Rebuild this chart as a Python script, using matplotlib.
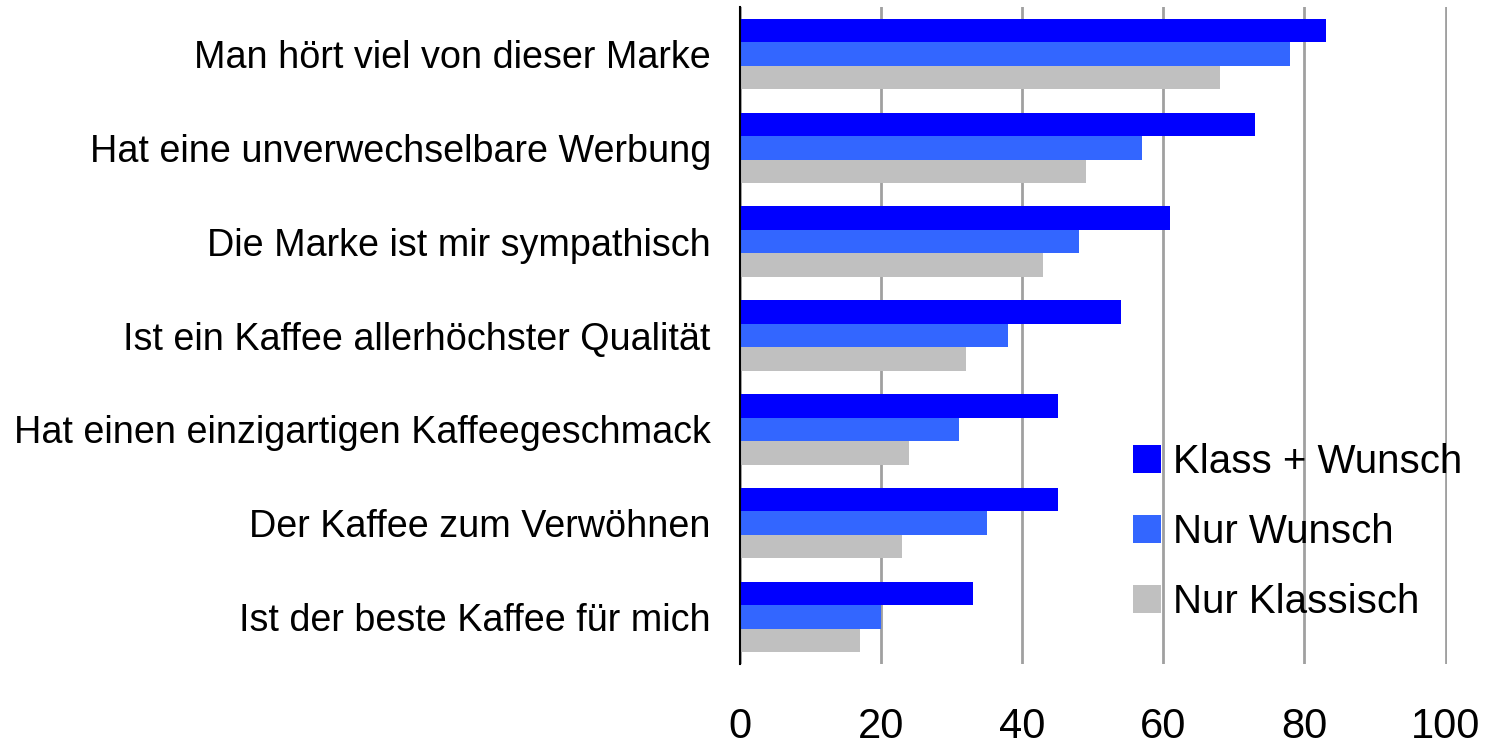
import matplotlib
matplotlib.use('Agg')
import matplotlib.pyplot as plt
import numpy as np

plt.rcParams['font.family'] = ['Liberation Sans', 'DejaVu Sans']

categories = [
    'Man hört viel von dieser Marke',
    'Hat eine unverwechselbare Werbung',
    'Die Marke ist mir sympathisch',
    'Ist ein Kaffee allerhöchster Qualität',
    'Hat einen einzigartigen Kaffeegeschmack',
    'Der Kaffee zum Verwöhnen',
    'Ist der beste Kaffee für mich',
]
klass_wunsch = [83, 73, 61, 54, 45, 45, 33]
nur_wunsch = [78, 57, 48, 38, 31, 35, 20]
nur_klassisch = [68, 49, 43, 32, 24, 23, 17]

series = [('Klass + Wunsch', klass_wunsch, '#0000FF'),
          ('Nur Wunsch', nur_wunsch, '#3366FF'),
          ('Nur Klassisch', nur_klassisch, '#C0C0C0')]

fig = plt.figure(figsize=(14.86, 7.47), dpi=100)
ax = fig.add_axes([740 / 1486, 83 / 747, 707 / 1486, 657 / 747])

y = np.arange(len(categories))
h = 0.25
for k, (name, vals, col) in enumerate(series):
    ax.barh(y + (k - 1) * h, vals, height=h, color=col, label=name, zorder=2)

ax.set_xlim(0, 100.2)
ax.set_ylim(len(categories) - 0.5, -0.5)
ax.set_xticks([0, 20, 40, 60, 80, 100])
ax.set_yticks(y)
ax.set_yticklabels(categories, fontsize=27.2)
ax.tick_params(axis='y', length=0, pad=21)
ax.tick_params(axis='x', length=0, pad=31, labelsize=30)

ax.xaxis.grid(True, color='#a0a0a0', lw=2, zorder=0)
ax.set_axisbelow(True)
for s in ('top', 'right', 'bottom'):
    ax.spines[s].set_visible(False)
ax.spines['left'].set_color('black')
ax.spines['left'].set_linewidth(1.5)

fig.legend(loc='upper left', bbox_to_anchor=(1133 / 1486, 1 - 443 / 747),
           frameon=False, fontsize=29, handlelength=0.7, handleheight=0.7,
           handletextpad=0.3, labelspacing=0.8, borderpad=0, borderaxespad=0)

fig.savefig('out.png', dpi=100)
